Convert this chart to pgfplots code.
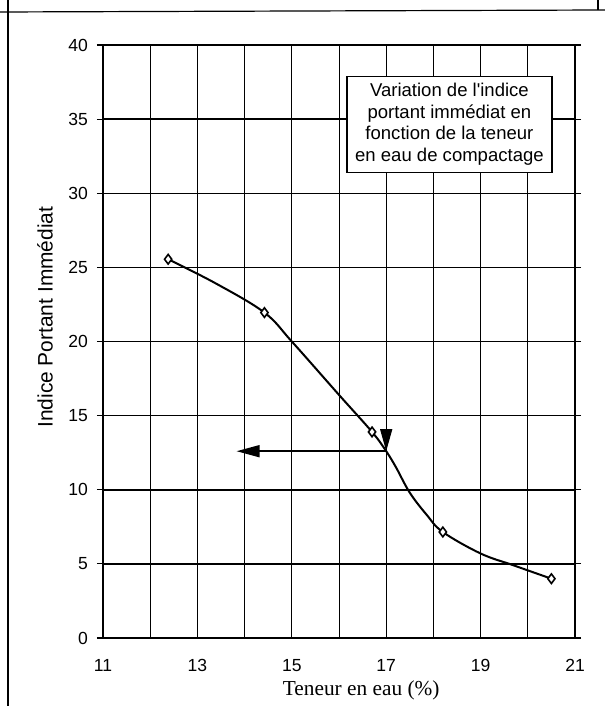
\documentclass[border=0pt]{standalone}
\usepackage{fontspec}
\setmainfont{Liberation Sans}
\newfontfamily\serifx{Liberation Serif}
\usepackage{pgfplots}
\pgfplotsset{compat=1.18}
\usetikzlibrary{arrows.meta}

\begin{document}
\begin{tikzpicture}
\useasboundingbox (-51.5bp,-34bp) rectangle (251bp,319bp);
\draw[line width=0.6bp] (-47.5bp,-34bp) -- (-47.5bp,319bp);
\draw[line width=0.6bp] (-51.5bp,313bp) -- (251bp,314bp);
\draw[line width=0.6bp] (247.5bp,314bp) -- (247.5bp,319bp);
\begin{axis}[
  at={(0,0)}, anchor=south west,
  scale only axis, width=236bp, height=296.5bp,
  xmin=11, xmax=21, ymin=0, ymax=40,
  xtick={11,13,...,21}, minor xtick={12,14,...,20},
  ytick={0,5,...,40},
  grid=both,
  major x grid style={black, line width=0.5bp},
  minor x grid style={black, line width=0.5bp},
  major y grid style={black, line width=0.75bp},
  axis line style={black, line width=0.8bp},
  tick align=outside,
  major tick length=3bp, minor tick length=0pt,
  xtick style={draw=none},
  ytick style={black, line width=0.6bp},
  /pgf/number format/assume math mode=true,
  tick label style={font=\fontsize{8.8}{10}\selectfont},
  xticklabel style={yshift=-4bp},
  yticklabel style={xshift=-1bp},
  xlabel={\serifx Teneur en eau (\%)},
  xlabel style={font=\fontsize{10.7}{12}\selectfont, at={(axis description cs:0.547,-0.088)}, anchor=center},
  ylabel={Indice Portant Immédiat},
  ylabel style={font=\fontsize{10.5}{12}\selectfont, at={(axis description cs:-0.123,0.541)}, anchor=center},
]
% curve
\addplot[black, line width=1bp, smooth, tension=0.6, mark=none] coordinates {
  (12.38,25.55) (13.4,23.9) (14.42,21.95) (15.0,20.0) (16.0,16.4)
  (16.7,13.9) (17.0,12.6) (17.21,11.5) (17.5,9.8) (17.86,8.3)
  (18.2,7.15) (19.0,5.7) (19.7,4.9) (20.5,4.0)
};
% measured points
\addplot[only marks, mark=diamond*, mark size=2.4bp, mark options={fill=white, draw=black, line width=0.8bp}] coordinates {
  (12.38,25.55) (14.42,21.95) (16.7,13.9) (18.2,7.15) (20.5,4.0)
};
% reading arrows
\addplot[black, line width=0.6bp, -{Triangle[length=11bp,width=6bp]}] coordinates {(17,15.0) (17,12.6)};
\addplot[black, line width=0.8bp, -{Triangle[length=11.5bp,width=6bp]}] coordinates {(17,12.6) (13.83,12.6)};
% caption box
\node[draw=black, fill=white, line width=0.6bp, align=center, inner sep=2bp,
      minimum width=102.5bp, minimum height=48bp,
      font=\fontsize{9.3}{10.8}\selectfont] at (axis cs:18.34,34.65)
  {Variation de l\textquotesingle indice\\portant immédiat en\\fonction de la teneur\\en eau de compactage};
\end{axis}
\end{tikzpicture}
\end{document}
